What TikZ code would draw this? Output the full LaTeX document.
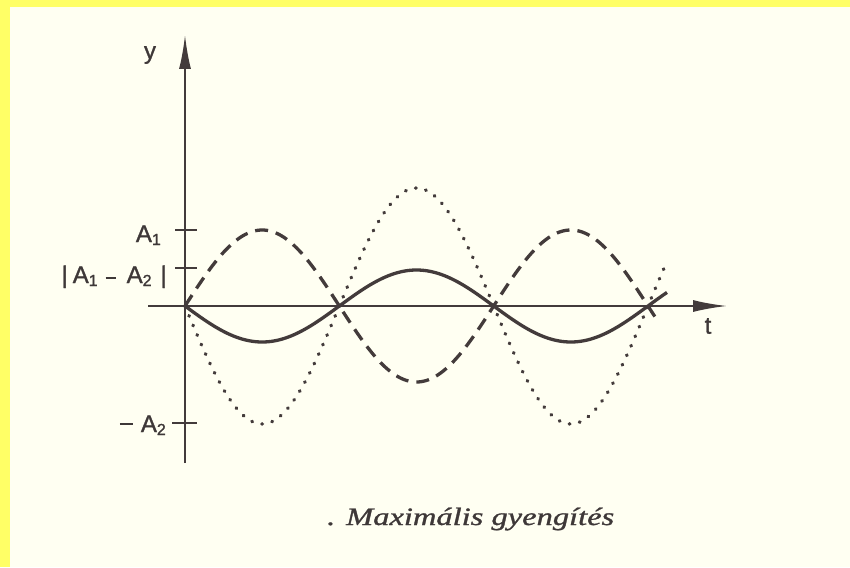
\documentclass[tikz,border=0pt]{standalone}
\usepackage{fontspec}
\setmainfont{Liberation Serif}
\newfontfamily\labfont[FakeBold=1.2]{Liberation Sans}
\newfontfamily\capfont[FakeBold=1.0]{Liberation Serif}
\usetikzlibrary{arrows.meta}
\definecolor{ink}{HTML}{433B3B}
\definecolor{txt}{HTML}{3E3838}
\definecolor{paper}{HTML}{FFFFF2}
\definecolor{band}{HTML}{FFFF66}
\newcommand{\sbx}[1]{\raisebox{-3pt}{\fontsize{16}{16}\selectfont #1}}
\newcommand{\mrule}[1]{\rule[#1]{10pt}{2.4pt}}
\begin{document}
\begin{tikzpicture}[x=1pt,y=-1pt,
  axisline/.style={draw=ink,line width=2pt},
  tickline/.style={draw=ink,line width=2pt},
  wave/.style={draw=ink,line width=3.3pt},
  dashwave/.style={wave,dash pattern=on 13pt off 8pt},
  dotwave/.style={draw=ink,line width=3.5pt,line cap=round,dash pattern=on 0.6pt off 9.8pt},
  lbl/.style={font=\labfont\fontsize{24}{24}\selectfont,text=txt,inner sep=0pt},
  captext/.style={font=\capfont\fontsize{25}{25}\selectfont\itshape,text=txt,inner sep=0pt}]
\useasboundingbox (0,0) rectangle (850,567);
\fill[band] (0,0) rectangle (850,567);
\fill[paper] (10,7) rectangle (850,567);
% axes
\coordinate (xs) at (148,306);
\coordinate (xe) at (727,306);
\coordinate (ys) at (185,463);
\coordinate (ye) at (185,35);
\draw[axisline,-{Latex[length=34pt,width=12pt]}] (xs) -- (xe);
\draw[axisline,-{Latex[length=34pt,width=12pt]}] (ys) -- (ye);
\node[lbl] (ylab) at (150,55) {y};
\node[lbl] (tlab) at (708,326) {t};
% ticks
\coordinate (a1l) at (175,230); \coordinate (a1r) at (197,230);
\coordinate (dl) at (175,268); \coordinate (dr) at (197,268);
\coordinate (a2l) at (172,423); \coordinate (a2r) at (197,423);
\draw[tickline] (a1l) -- (a1r);
\draw[tickline] (dl) -- (dr);
\draw[tickline] (a2l) -- (a2r);
\node[lbl,anchor=base east] (la1) at (161,242) {A\sbx{1}};
\node[lbl,anchor=base east] (ld) at (167,283) {|\hspace{5pt}A\sbx{1}\hspace{8pt}\mrule{4pt}\hspace{11pt}A\sbx{2}\hspace{9pt}|};
\node[lbl,anchor=base east] (la2) at (166,432) {\rule[7pt]{13pt}{2.4pt}\hspace{8pt}A\sbx{2}};
% waves
\draw[dashwave] plot[domain=185:656,samples=220,smooth] (\x,{306-76*sin((\x-185)/154.33*180)});
\draw[dotwave] plot[domain=185:664,samples=220,smooth] (\x,{306+118*sin((\x-185)/154.33*180)});
\draw[wave] plot[domain=185:667,samples=220,smooth] (\x,{306+36*sin((\x-185)/154.33*180)});
% caption
\node[captext,anchor=base west] (caption) at (327,525) {\scalebox{1.3}[1]{. Maximális gyengítés}};
\end{tikzpicture}
\end{document}
